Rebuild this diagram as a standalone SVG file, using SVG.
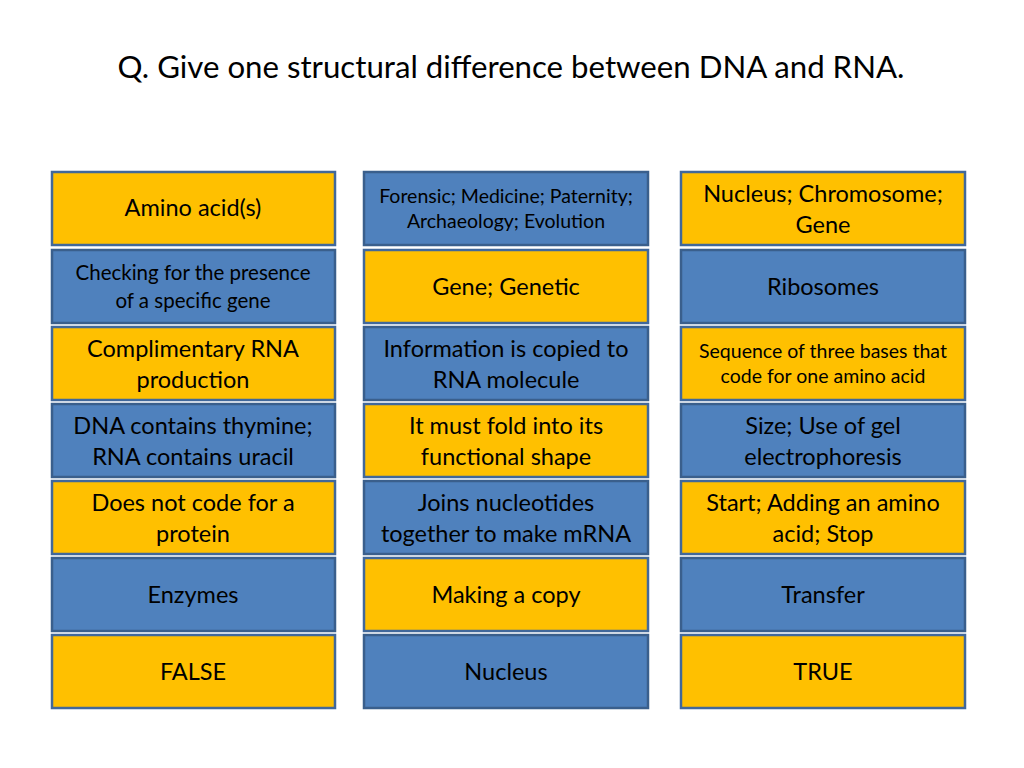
<svg xmlns="http://www.w3.org/2000/svg" width="1024" height="768" viewBox="0 0 1024 768">
<style>
.y{fill:#FFC000;stroke:#41689A;stroke-width:2.5}
.b{fill:#4F81BD;stroke:#3A5F8C;stroke-width:2.5}
text{font-family:Lato,"Open Sans",sans-serif;fill:#000;text-anchor:middle}
.t{font-size:23.5px}
.s{font-size:20.5px}
.xs{font-size:19.5px}
.title{font-size:31.2px}
</style>
<rect width="1024" height="768" fill="#fff"/>
<text class="title" x="511" y="78">Q. Give one structural difference between DNA and RNA.</text>
<g id="r1c1"><rect class="y" x="52" y="172" width="283" height="73"/><text class="t" x="193" y="216">Amino acid(s)</text></g>
<g id="r1c2"><rect class="b" x="364" y="172" width="284" height="73"/><text class="xs" x="506" y="203">Forensic; Medicine; Paternity;</text><text class="xs" x="506" y="228">Archaeology; Evolution</text></g>
<g id="r1c3"><rect class="y" x="681" y="172" width="284" height="73"/><text class="t" x="823" y="202">Nucleus; Chromosome;</text><text class="t" x="823" y="233">Gene</text></g>
<g id="r2c1"><rect class="b" x="52" y="250" width="283" height="73"/><text class="s" x="193" y="280">Checking for the presence</text><text class="s" x="193" y="308">of a specific gene</text></g>
<g id="r2c2"><rect class="y" x="364" y="250" width="284" height="73"/><text class="t" x="506" y="295">Gene; Genetic</text></g>
<g id="r2c3"><rect class="b" x="681" y="250" width="284" height="73"/><text class="t" x="823" y="295">Ribosomes</text></g>
<g id="r3c1"><rect class="y" x="52" y="327" width="283" height="73"/><text class="t" x="193" y="357">Complimentary RNA</text><text class="t" x="193" y="388">production</text></g>
<g id="r3c2"><rect class="b" x="364" y="327" width="284" height="73"/><text class="t" x="506" y="357">Information is copied to</text><text class="t" x="506" y="388">RNA molecule</text></g>
<g id="r3c3"><rect class="y" x="681" y="327" width="284" height="73"/><text class="xs" x="823" y="358">Sequence of three bases that</text><text class="xs" x="823" y="383">code for one amino acid</text></g>
<g id="r4c1"><rect class="b" x="52" y="404" width="283" height="73"/><text class="t" x="193" y="434">DNA contains thymine;</text><text class="t" x="193" y="465">RNA contains uracil</text></g>
<g id="r4c2"><rect class="y" x="364" y="404" width="284" height="73"/><text class="t" x="506" y="434">It must fold into its</text><text class="t" x="506" y="465">functional shape</text></g>
<g id="r4c3"><rect class="b" x="681" y="404" width="284" height="73"/><text class="t" x="823" y="434">Size; Use of gel</text><text class="t" x="823" y="465">electrophoresis</text></g>
<g id="r5c1"><rect class="y" x="52" y="481" width="283" height="73"/><text class="t" x="193" y="511">Does not code for a</text><text class="t" x="193" y="542">protein</text></g>
<g id="r5c2"><rect class="b" x="364" y="481" width="284" height="73"/><text class="t" x="506" y="511">Joins nucleotides</text><text class="t" x="506" y="542">together to make mRNA</text></g>
<g id="r5c3"><rect class="y" x="681" y="481" width="284" height="73"/><text class="t" x="823" y="511">Start; Adding an amino</text><text class="t" x="823" y="542">acid; Stop</text></g>
<g id="r6c1"><rect class="b" x="52" y="558" width="283" height="73"/><text class="t" x="193" y="603">Enzymes</text></g>
<g id="r6c2"><rect class="y" x="364" y="558" width="284" height="73"/><text class="t" x="506" y="603">Making a copy</text></g>
<g id="r6c3"><rect class="b" x="681" y="558" width="284" height="73"/><text class="t" x="823" y="603">Transfer</text></g>
<g id="r7c1"><rect class="y" x="52" y="635" width="283" height="73"/><text class="t" x="193" y="680">FALSE</text></g>
<g id="r7c2"><rect class="b" x="364" y="635" width="284" height="73"/><text class="t" x="506" y="680">Nucleus</text></g>
<g id="r7c3"><rect class="y" x="681" y="635" width="284" height="73"/><text class="t" x="823" y="680">TRUE</text></g>
<g id="connectors"></g>
</svg>
